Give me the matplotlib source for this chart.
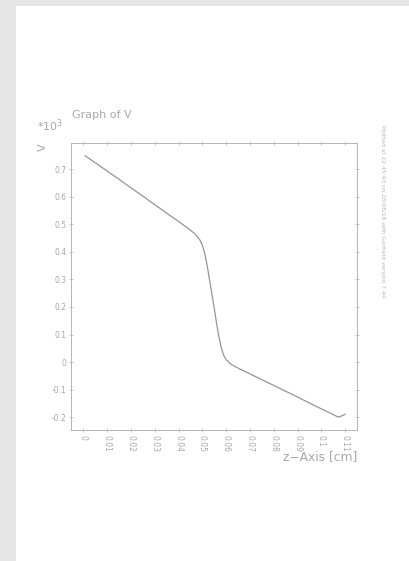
import matplotlib
matplotlib.use("Agg")
import matplotlib.pyplot as plt
from matplotlib.patches import Rectangle

# Data
z_cm = [0.0007, 0.005, 0.010, 0.015, 0.020, 0.025, 0.030, 0.035, 0.040, 0.044,
        0.047, 0.049, 0.050, 0.051, 0.052, 0.053, 0.054, 0.055, 0.056, 0.057,
        0.058, 0.059, 0.060, 0.062, 0.065, 0.070, 0.075, 0.080, 0.085, 0.090,
        0.095, 0.100, 0.105, 0.107, 0.108, 0.110]
V_k = [0.750, 0.724, 0.694, 0.664, 0.633, 0.603, 0.572, 0.541, 0.511, 0.486,
       0.465, 0.443, 0.425, 0.395, 0.352, 0.300, 0.248, 0.195, 0.140, 0.090,
       0.050, 0.024, 0.009, -0.008, -0.022, -0.043, -0.064, -0.085, -0.106, -0.127,
       -0.149, -0.170, -0.191, -0.200, -0.198, -0.190]
x_ticks = [0, 0.01, 0.02, 0.03, 0.04, 0.05, 0.06, 0.07, 0.08, 0.09, 0.1, 0.11]
x_tick_labels = ["0", "0.01", "0.02", "0.03", "0.04", "0.05", "0.06", "0.07",
                 "0.08", "0.09", "0.1", "0.11"]
y_ticks = [-0.2, -0.1, 0, 0.1, 0.2, 0.3, 0.4, 0.5, 0.6, 0.7]
y_tick_labels = ["-0.2", "-0.1", "0", "0.1", "0.2", "0.3", "0.4", "0.5", "0.6", "0.7"]

txt = "#a8a8a8"
axc = "#b4b4b4"

fig = plt.figure(figsize=(4.10, 5.61), dpi=100)
fig.patch.set_facecolor("white")
# grey frame strips
fig.patches.append(Rectangle((0, 0), 16 / 410, 1, transform=fig.transFigure,
                             facecolor="#e6e6e6", edgecolor="none", zorder=0))
fig.patches.append(Rectangle((0, 1 - 6 / 561), 1, 6 / 561, transform=fig.transFigure,
                             facecolor="#e6e6e6", edgecolor="none", zorder=0))

ax = fig.add_axes([71 / 410, 1 - 430 / 561, 286 / 410, 287 / 561])
ax.plot(z_cm, V_k, color="#959595", lw=0.9)
ax.set_xlim(-0.0052, 0.115)
ax.set_ylim(-0.247, 0.796)

ax.set_xticks(x_ticks)
ax.set_xticklabels(x_tick_labels, rotation=-90, fontsize=5.5, color=txt)
ax.set_yticks(y_ticks)
ax.set_yticklabels(y_tick_labels, fontsize=5.5, color=txt)
ax.tick_params(axis="both", direction="inout", length=3, width=0.5, color=axc,
               top=True, right=True, pad=2)
for s in ax.spines.values():
    s.set_color(axc)
    s.set_linewidth(0.7)

fig.text(72 / 410, 1 - 115 / 561, "Graph of V", fontsize=8, color=txt, va="center", ha="left")
fig.text(37 / 410, 1 - 126 / 561, "*10$^3$", fontsize=8, color=txt, va="center", ha="left")
fig.text(43 / 410, 1 - 147 / 561, "V", fontsize=8, color=txt, va="center", ha="center",
         rotation=90)
fig.text(357 / 410, 1 - 457 / 561, "z\u2212Axis [cm]", fontsize=8.8, color=txt,
         va="center", ha="right")
fig.text(383 / 410, 1 - 125 / 561,
         "Plotted at 22:45:43 on 28/08/18 with Garfield version 7.44.",
         fontsize=4.2, color="#b8b8b8", rotation=-90, va="top", ha="center")

fig.savefig("out.png", dpi=100)
